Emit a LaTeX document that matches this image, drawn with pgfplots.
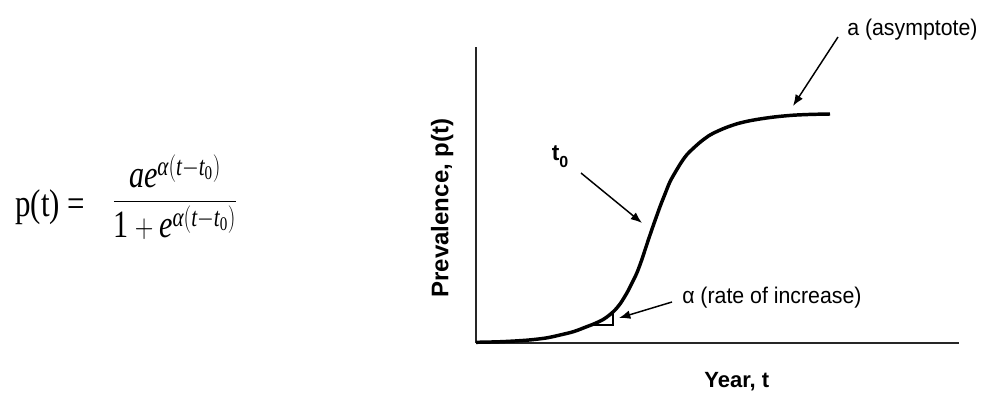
\documentclass[border=0pt]{standalone}
\usepackage{fontspec}
\usepackage{amsmath}
\usepackage{graphicx}
\usepackage{pgfplots}
\pgfplotsset{compat=1.18}
\usetikzlibrary{arrows.meta}
\setmainfont{Liberation Sans}
\newfontfamily\tnr{Liberation Serif}

\begin{document}
\begin{tikzpicture}
\useasboundingbox (-357pt,-38.25pt) rectangle (378.75pt,257.25pt);
\begin{axis}[
  at={(0pt,0pt)}, anchor=origin,
  scale only axis, width=362.25pt, height=222pt,
  xmin=0, xmax=483, ymin=0, ymax=296,
  axis x line=bottom, axis y line=left,
  axis line style={-, line width=1.3pt, black!85},
  xtick=\empty, ytick=\empty,
  clip=false,
  xlabel={Year, t}, ylabel={Prevalence, p(t)},
  xlabel style={at={(axis description cs:0.540,-0.132)}, anchor=center, font=\fontsize{16.5}{19}\selectfont\bfseries},
  ylabel style={at={(axis description cs:-0.070,0.456)}, anchor=center, font=\fontsize{18}{21}\selectfont\bfseries},
]
\addplot[smooth, line width=2.6pt, black] coordinates {
(0,0.7) (25,1.3) (50.7,2.8) (70,5) (84,8) (98,11.5) (110.7,16.3) (117.3,18.8)
(128,24) (137.3,31.3) (144,39) (150.7,49.7) (156,60) (160.7,69.7) (165,81)
(169,93) (175.7,113) (184,136.3) (189,149) (194,161.3) (200,172) (205.7,181.3)
(211,188.5) (217.3,194.7) (225,201.5) (234,208) (242,212) (250.7,215.7)
(262,219.5) (274,222.3) (287,224.5) (300.7,226.3) (317.3,227.8) (335,228.6) (354,229)
};
% slope triangle
\addplot[line width=1pt, black] coordinates {(117,18) (137,18) (137,31)};
% arrows
\addplot[-{Latex[length=8.5pt,width=6.5pt]}, line width=1.1pt, black] coordinates {(362,306) (317,237)};
\addplot[-{Latex[length=8.5pt,width=6.5pt]}, line width=1.1pt, black] coordinates {(105,170) (166,120)};
\addplot[-{Latex[length=8.5pt,width=6.5pt]}, line width=1.1pt, black] coordinates {(196,41) (143,25)};
% annotations
\node[anchor=west, inner sep=0pt] at (axis cs:371,313) {\scalebox{0.94}[1]{\fontsize{17}{20}\selectfont a (asymptote)}};
\node[anchor=west, inner sep=0pt] at (axis cs:206,45) {\scalebox{0.94}[1]{\fontsize{17}{20}\selectfont α (rate of increase)}};
\node[inner sep=0pt, font=\fontsize{17}{20}\selectfont\bfseries] at (axis cs:84,186) {t\raisebox{-0.3em}{\fontsize{12}{14}\selectfont 0}};
% formula
\node[anchor=west, inner sep=0pt] at (axis cs:-461,136) {\scalebox{0.8}[1]{\tnr\fontsize{29}{34}\selectfont p(t) =}};
\node[inner sep=0pt] at (axis cs:-301,146) {\scalebox{0.78}[1]{\tnr\fontsize{29}{34}\selectfont $\dfrac{\textit{ae}^{\textit{α}(\textit{t}-\textit{t}_{\text{0}})}}{\text{1}+\textit{e}^{\textit{α}(\textit{t}-\textit{t}_{\text{0}})}}$}};
\end{axis}
\end{tikzpicture}
\end{document}
